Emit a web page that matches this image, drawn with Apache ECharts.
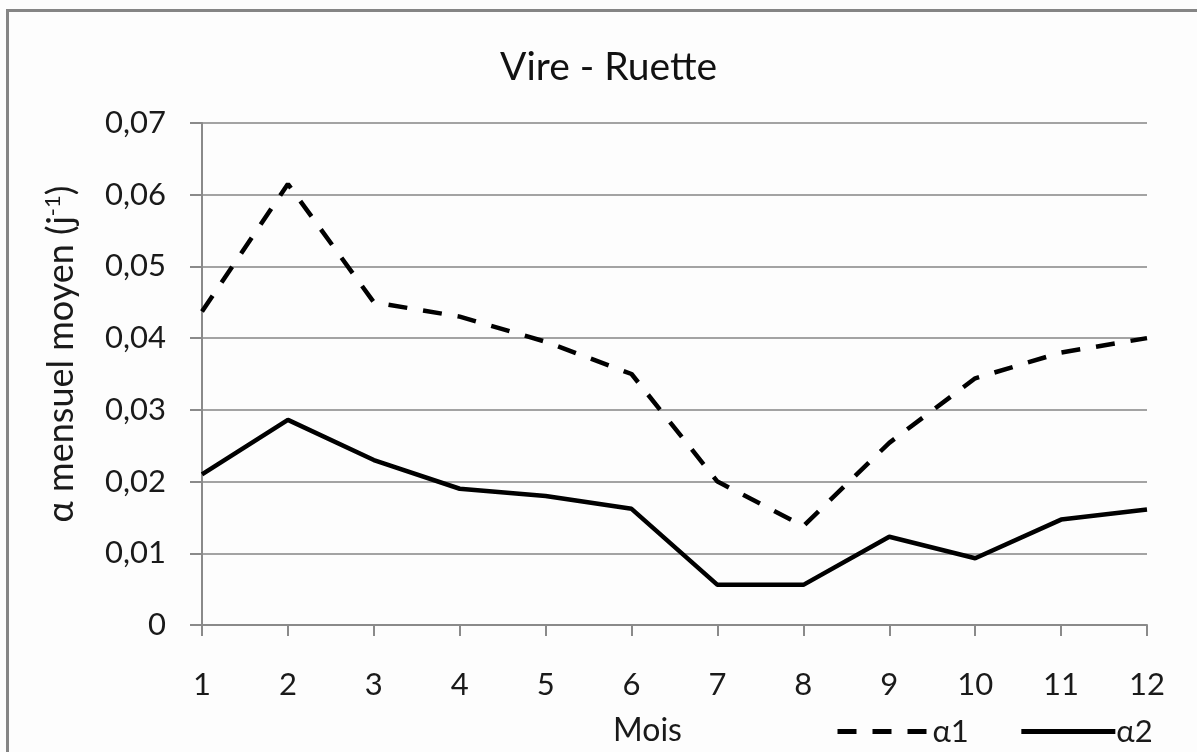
<!DOCTYPE html>
<html>
<head>
<meta charset="utf-8">
<script src="https://cdn.jsdelivr.net/npm/echarts@6/dist/echarts.min.js"></script>
<style>
  html, body { margin: 0; padding: 0; background: #fdfdfd; }
  #frame { position: absolute; left: 6px; top: 9px; width: 1200px; height: 760px;
           border-top: 3px solid #858585; border-left: 3px solid #858585; }
  #main { position: absolute; left: 0; top: 0; width: 1197px; height: 752px; }
</style>
</head>
<body>
<div id="frame"></div>
<div id="main"></div>
<script>
// mois
var months = ['1', '2', '3', '4', '5', '6', '7', '8', '9', '10', '11', '12'];
// alpha mensuel moyen (j-1)
var alpha1 = [0.0437, 0.0615, 0.0450, 0.0430, 0.0395, 0.0350, 0.0200, 0.0138, 0.0254, 0.0344, 0.0380, 0.0400];
var alpha2 = [0.0210, 0.0286, 0.0230, 0.0190, 0.0180, 0.0162, 0.0056, 0.0056, 0.0123, 0.0093, 0.0147, 0.0161];
var yTicks = [0, 0.01, 0.02, 0.03, 0.04, 0.05, 0.06, 0.07];

var font = 'Lato, "Liberation Sans", sans-serif';

var myChart = echarts.init(document.getElementById('main'));

var option = {
  animation: false,
  textStyle: { fontFamily: font, color: '#1a1a1a' },
  title: {
    text: 'Vire - Ruette',
    left: 495,
    top: 43,
    textStyle: { fontFamily: font, fontSize: 39, fontWeight: 'normal', color: '#111' }
  },
  legend: {
    left: 830,
    top: 711,
    itemWidth: 94,
    itemHeight: 14,
    itemGap: 50,
    itemStyle: { opacity: 0 },
    lineStyle: { width: 5 },
    textStyle: { fontFamily: font, fontSize: 31, color: '#1a1a1a', padding: [0, 0, 0, -4] },
    data: ['α1', 'α2']
  },
  grid: { left: 202, right: 50, top: 123, bottom: 126 },
  xAxis: {
    type: 'category',
    data: months,
    boundaryGap: false,
    name: 'Mois',
    nameLocation: 'middle',
    nameGap: 90,
    nameTextStyle: { fontFamily: font, fontSize: 32, color: '#1a1a1a', padding: [0, 54, 0, 0] },
    axisLine: { lineStyle: { color: '#8a8a8a', width: 2 } },
    axisTick: { show: true, alignWithLabel: true, length: 11, lineStyle: { color: '#8a8a8a', width: 2 } },
    axisLabel: { fontFamily: font, fontSize: 31, color: '#1a1a1a', margin: 44 },
    splitLine: { show: false }
  },
  yAxis: {
    type: 'value',
    min: yTicks[0],
    max: yTicks[yTicks.length - 1],
    interval: 0.01,
    name: '{n|α mensuel moyen (j}{s|-1}{n|)}',
    nameLocation: 'middle',
    nameGap: 122,
    nameTextStyle: {
      padding: [0, 0, 0, 40],
      rich: {
        n: { fontFamily: font, fontSize: 36, color: '#1a1a1a' },
        s: { fontFamily: font, fontSize: 22, color: '#1a1a1a', verticalAlign: 'top', padding: [0, 0, 16, 0] }
      }
    },
    axisLine: { show: true, lineStyle: { color: '#8a8a8a', width: 2 } },
    axisTick: { show: true, length: 12, lineStyle: { color: '#8a8a8a', width: 2 } },
    axisLabel: {
      fontFamily: font, fontSize: 31, color: '#1a1a1a', margin: 36,
      formatter: function (v) { return v === 0 ? '0' : v.toFixed(2).replace('.', ','); }
    },
    splitLine: { lineStyle: { color: '#a3a3a3', width: 2 } }
  },
  series: [
    {
      name: 'α1',
      type: 'line',
      data: alpha1,
      symbol: 'none',
      lineStyle: { color: '#000', width: 4.5, type: [19, 16] },
      itemStyle: { color: '#000' }
    },
    {
      name: 'α2',
      type: 'line',
      data: alpha2,
      symbol: 'none',
      lineStyle: { color: '#000', width: 4.5 },
      itemStyle: { color: '#000' }
    }
  ]
};

myChart.setOption(option);
</script>
</body>
</html>
